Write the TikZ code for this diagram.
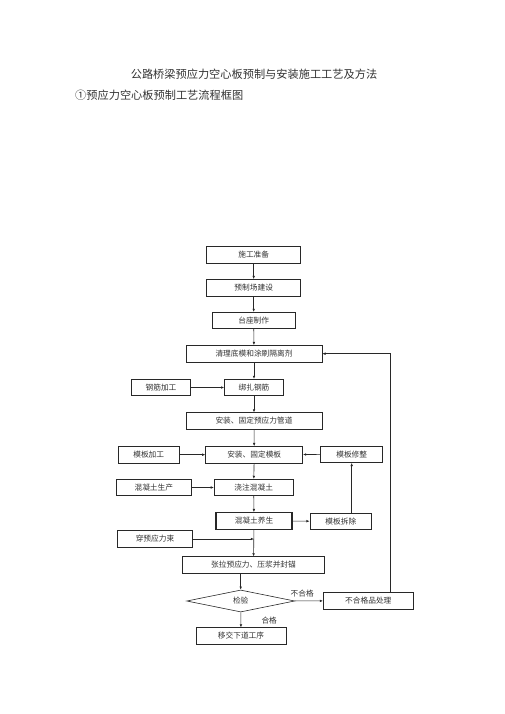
\documentclass[tikz,border=0pt]{standalone}
\usepackage{fontspec}
\setmainfont{Noto Sans CJK SC}
\usepackage{tikz}
\usetikzlibrary{arrows.meta,positioning,calc,shapes.geometric}
\definecolor{lineclr}{RGB}{40,40,40}
\definecolor{txtclr}{RGB}{50,50,50}

\begin{document}
\begin{tikzpicture}[x=1pt,y=-1pt,>={Latex[length=3.2pt,width=2.6pt]},
    font=\fontsize{7.7}{9}\selectfont,text=txtclr,
    bx/.style={draw=lineclr,line width=0.6pt,minimum height=16.5pt,inner sep=0pt},
    bxthick/.style={bx,line width=1.2pt},
    chk/.style={draw=lineclr,line width=0.6pt,shape=diamond,aspect=4.9,inner sep=0pt,minimum width=108pt,minimum height=22pt},
    ln/.style={draw=lineclr,line width=0.6pt}]
  \useasboundingbox (0,0) rectangle (505,714);
  % titles
  \node[font=\fontsize{11.2}{13}\selectfont] (title) at (254,74) {公路桥梁预应力空心板预制与安装施工工艺及方法};
  \node[font=\fontsize{11.2}{13}\selectfont,anchor=west,inner sep=0pt] (sub) at (75,95) {①预应力空心板预制工艺流程框图};
  % main chain
  \node[bx,minimum width=94pt] (prep) at (253.7,255) {施工准备};
  \node[bxthick,minimum width=94pt] (yard) at (253.7,288) {预制场建设};
  \node[bx,minimum width=83pt] (bed) at (253.7,320.5) {台座制作};
  \node[bx,minimum width=136pt] (clean) at (254,353.7) {清理底模和涂刷隔离剂};
  \node[bx,minimum width=59pt] (bind) at (254,387.5) {绑扎钢筋};
  \node[bx,minimum width=136pt] (duct) at (254,421) {安装、固定预应力管道};
  \node[bx,minimum width=97pt] (form) at (254.2,454.7) {安装、固定模板};
  \node[bx,minimum width=79pt] (pour) at (253.7,487.5) {浇注混凝土};
  \node[bxthick,minimum width=76pt] (cure) at (254,521) {混凝土养生};
  \node[bx,minimum width=141.7pt] (tens) at (253.5,565) {张拉预应力、压浆并封锚};
  \node[chk] (check) at (240.7,601) {检验};
  \node[bx,minimum width=90pt] (next) at (241,636) {移交下道工序};
  % side boxes
  \node[bx,minimum width=59pt] (rebar) at (161,387.5) {钢筋加工};
  \node[bx,minimum width=60.7pt] (formmk) at (148.7,454.7) {模板加工};
  \node[bx,minimum width=62pt] (formfix) at (351.7,454.3) {模板修整};
  \node[bx,minimum width=75.7pt] (conc) at (153.8,487.5) {混凝土生产};
  \node[bx,minimum width=61.7pt] (strip) at (340.8,521.3) {模板拆除};
  \node[bx,minimum width=75pt,line width=0.9pt] (strand) at (155,539) {穿预应力束};
  \node[bx,minimum width=90pt] (reject) at (368.3,600.8) {不合格品处理};
  \coordinate (join) at (cure.south |- strand.east);
  \coordinate (ret) at (390,353.7);
  % connectors
  \draw[ln,->] (prep) -- (yard);
  \draw[ln,->] (yard) -- (bed);
  \draw[ln,->] (bed) -- (clean);
  \draw[ln,->] (clean) -- (bind);
  \draw[ln,->] (bind) -- (duct);
  \draw[ln,->] (duct) -- (form);
  \draw[ln,->] (form) -- (pour);
  \draw[ln,->] (pour) -- (cure);
  \draw[ln,->] (cure) -- (tens);
  \draw[ln,->] (rebar) -- (bind);
  \draw[ln,->] (formmk) -- (form);
  \draw[ln,->] (formfix) -- (form);
  \draw[ln,->] (conc) -- (pour);
  \draw[ln,->] (cure) -- (strip);
  \draw[ln,->] (strip.north -| formfix.south) -- (formfix.south);
  \draw[ln,->] (strand) -- (join);
  \draw[ln,->] (tens.south -| check.north) -- (check.north);
  \draw[ln,->] (check) -- node[above,pos=0.2,xshift=2pt] {不合格} (reject);
  \draw[ln,->] (check) -- node[right=17pt,pos=0.55] {合格} (next);
  \draw[ln,->] (reject.north -| ret) -- (ret) -- (clean.east);
\end{tikzpicture}
\end{document}
